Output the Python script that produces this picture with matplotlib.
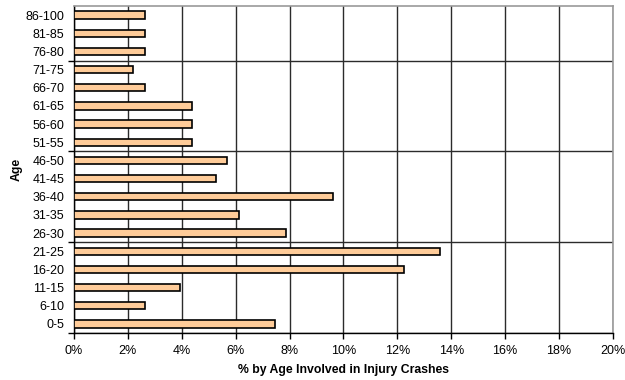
import matplotlib
matplotlib.use("Agg")
import matplotlib.pyplot as plt
import numpy as np

age_groups = ["0-5", "6-10", "11-15", "16-20", "21-25", "26-30", "31-35",
              "36-40", "41-45", "46-50", "51-55", "56-60", "61-65",
              "66-70", "71-75", "76-80", "81-85", "86-100"]
pct_injury = [7.45, 2.62, 3.94, 12.24, 13.57, 7.88, 6.12, 9.62, 5.26,
              5.69, 4.37, 4.37, 4.37, 2.62, 2.20, 2.62, 2.62, 2.62]
x_ticks = [0, 2, 4, 6, 8, 10, 12, 14, 16, 18, 20]

plt.rcParams["font.family"] = ["Liberation Sans", "DejaVu Sans"]

fig = plt.figure(figsize=(6.25, 3.8), dpi=100)
ax = fig.add_axes([0.1184, 0.1237, 0.8623, 0.8605])

y = np.arange(len(age_groups))
ax.barh(y, pct_injury, height=0.4, color="#FFCC99", edgecolor="#000000",
        linewidth=1.2, zorder=3)

ax.set_xlim(0, 20)
ax.set_ylim(-0.5, len(age_groups) - 0.5)

ax.set_xticks(x_ticks)
ax.set_xticklabels([f"{t}%" for t in x_ticks], fontsize=9)
ax.tick_params(axis="x", direction="out", length=4, width=1, pad=5,
               color="black")

ax.set_yticks(y)
ax.set_yticklabels(age_groups, fontsize=9)
ax.tick_params(axis="y", which="major", length=0, pad=7)
ax.set_yticks([-0.5, 4.5, 9.5, 14.5], minor=True)
ax.tick_params(axis="y", which="minor", direction="out", length=4, width=1,
               color="black")

ax.grid(axis="x", which="major", color="#2b2b2b", linewidth=1, zorder=0)
ax.grid(axis="y", which="minor", color="#2b2b2b", linewidth=1, zorder=0)

for side in ("left", "bottom"):
    ax.spines[side].set_color("black")
    ax.spines[side].set_linewidth(1)
for side in ("top", "right"):
    ax.spines[side].set_color("#999999")
    ax.spines[side].set_linewidth(1.2)

ax.set_xlabel("% by Age Involved in Injury Crashes", fontsize=8.8,
              fontweight="bold", labelpad=5)
ax.set_ylabel("Age", fontsize=8.8, fontweight="bold", labelpad=2)

fig.savefig("out.png", dpi=100, facecolor="white")
